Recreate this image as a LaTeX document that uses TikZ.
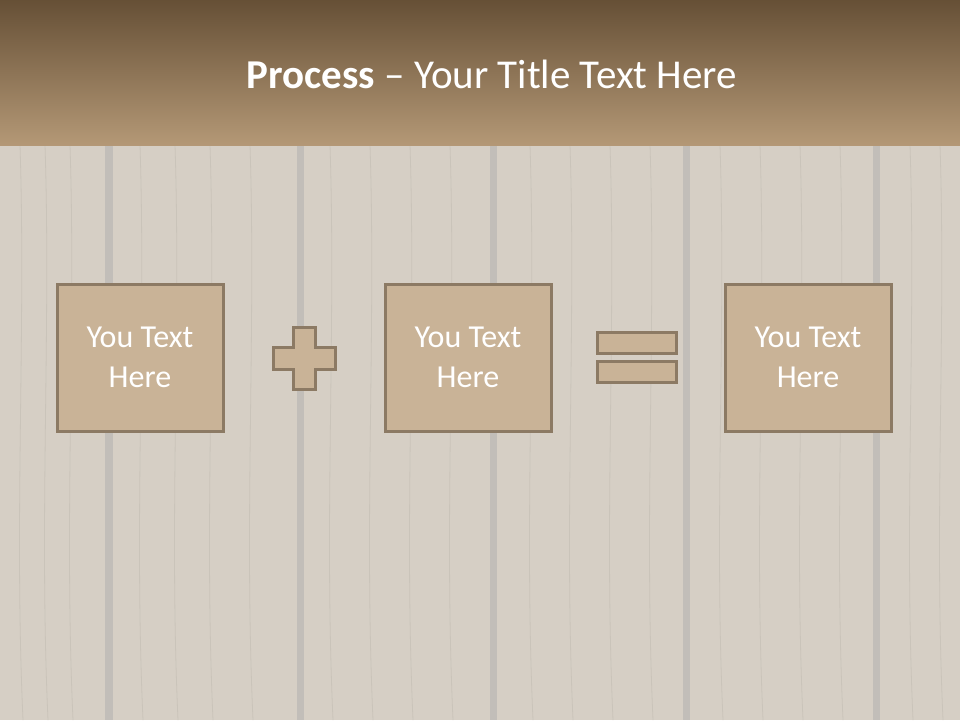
\documentclass[tikz,border=0pt]{standalone}
\usepackage{fontspec}
\setmainfont{Carlito}
\begin{document}
\begin{tikzpicture}[x=1pt,y=-1pt,
  box/.style={draw=boxline,line width=3pt,fill=boxfill,minimum width=166pt,minimum height=147pt,inner sep=0pt,
    text=white,font=\fontsize{32}{40}\selectfont,align=center},
  sym/.style={draw=boxline,line width=3pt,fill=boxfill},
  grain/.style={draw=graincol,line width=0.8pt}]
\definecolor{boxfill}{RGB}{201,179,151}
\definecolor{boxline}{RGB}{140,122,100}
\definecolor{woodbg}{RGB}{214,207,197}
\definecolor{seamcol}{RGB}{194,190,185}
\definecolor{graincol}{RGB}{202,196,186}
\definecolor{headtop}{RGB}{102,80,54}
\definecolor{headbot}{RGB}{180,152,118}
\useasboundingbox (0,0) rectangle (960,720);
% wood background
\fill[woodbg] (0,0) rectangle (960,720);
\foreach \x/\w in {105/8,297/7,490/7,683/7,873/7}{
  \fill[seamcol] (\x,145) rectangle ++(\w,575);
}
% grain
\foreach \x in {20,45,70,140,175,210,250,330,370,410,450,530,570,610,650,720,760,800,840,910,940}{
  \draw[grain] (\x,145) .. controls (\x+6,330) and (\x-6,520) .. (\x+3,720);
}
% header
\shade[top color=headtop,bottom color=headbot] (0,0) rectangle (960,145);
\node[text=white,font=\fontsize{41}{48}\selectfont] (title) at (492,74) {\textbf{Process} – Your Title Text Here};
% boxes
\node[box] (b1) at (140,357.5) {You Text\\Here};
\node[box] (b2) at (468,357.5) {You Text\\Here};
\node[box] (b3) at (808,357.5) {You Text\\Here};
% plus
\draw[sym] (293,327) -- (315,327) -- (315,347) -- (335,347) -- (335,369) -- (315,369) -- (315,389) -- (293,389) -- (293,369) -- (273,369) -- (273,347) -- (293,347) -- cycle;
% equals
\draw[sym] (597,332) rectangle (676,353);
\draw[sym] (597,361) rectangle (676,382);
\end{tikzpicture}
\end{document}
